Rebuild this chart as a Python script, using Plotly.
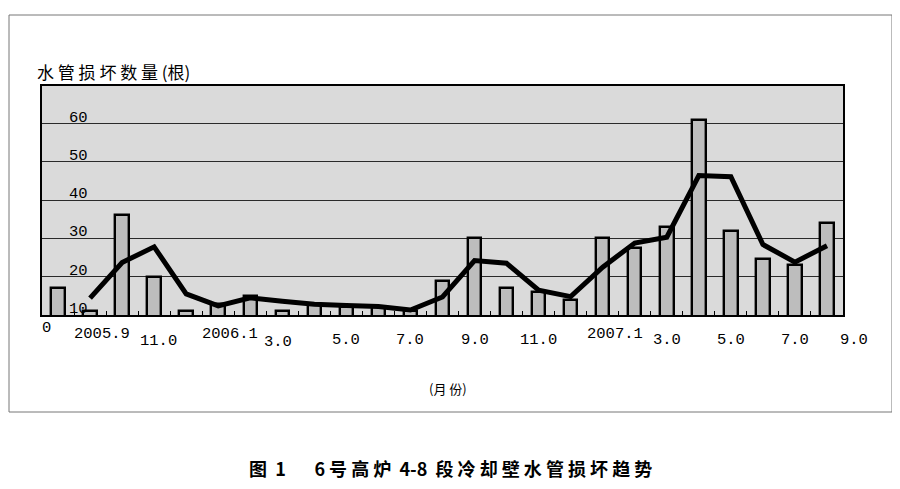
import plotly.graph_objects as go

# ---- data ----
months = ["2005.8", "2005.9", "2005.10", "2005.11", "2005.12",
          "2006.1", "2006.2", "2006.3", "2006.4", "2006.5", "2006.6",
          "2006.7", "2006.8", "2006.9", "2006.10", "2006.11", "2006.12",
          "2007.1", "2007.2", "2007.3", "2007.4", "2007.5", "2007.6",
          "2007.7", "2007.8"]
damaged = [17, 11, 36, 20, 11, 13, 15, 11, 12.5, 12, 12, 11, 19, 30, 17,
           16, 14, 30, 27.5, 33, 61, 32, 24.5, 23, 34]
trend = [None, 14.4, 23.7, 27.8, 15.5, 12.4, 14.5, 13.6, 12.8, 12.5, 12.2,
         11.3, 14.7, 24.2, 23.5, 16.5, 14.8, 22.5, 28.8, 30.3, 46.4, 46.1,
         28.4, 23.8, 28.1]

y_ticks = [10, 20, 30, 40, 50, 60]
x_tick_pos = [-1, 1, 3, 5, 7, 9, 11, 13, 15, 17, 19, 21, 23, 25]
x_tick_text = ["0", "2005.9", "11.0", "2006.1", "3.0", "5.0", "7.0", "9.0",
               "11.0", "2007.1", "3.0", "5.0", "7.0", "9.0"]

y_title = "水 管 损 坏 数 量 (根)"
x_title = "(月 份)"
caption = "图  1       6 号 高 炉  4-8  段 冷 却 壁 水 管 损 坏 趋 势"

# ---- figure ----
x_idx = list(range(len(months)))
n = len(months)

fig = go.Figure()
fig.add_trace(go.Bar(
    x=x_idx, y=damaged, width=0.42,
    marker=dict(color="#bdbdbd", line=dict(color="black", width=2.4)),
    hoverinfo="skip", showlegend=False,
))
fig.add_trace(go.Scatter(
    x=x_idx, y=trend, mode="lines",
    line=dict(color="black", width=5),
    hoverinfo="skip", showlegend=False, connectgaps=False,
))

OFF = 8  # page body margin
W, H = 900 - 2 * OFF, 489 - 2 * OFF
# plot area in window pixels
L, R, T, B = 42, 843, 86, 315
pw, ph = R - L, B - T

digit_font = dict(family="Liberation Mono, DejaVu Sans Mono, monospace",
                  size=15.5, color="black")

annotations = []
for v in y_ticks:
    annotations.append(dict(
        x=0, xref="paper", y=v, yref="y", xshift=25,
        xanchor="left", yanchor="bottom", yshift=-5,
        text=str(v), showarrow=False, font=digit_font))

for pos, txt in zip(x_tick_pos, x_tick_text):
    xs, yc = 0, 340
    if txt == "0":
        pos, xs, yc = -0.5, 4, 328
    elif txt.startswith("200"):
        xs, yc = 12, 334
    elif txt == "11.0" and pos == 3:
        xs, yc = 4, 341
    elif txt == "3.0" and pos == 7:
        xs, yc = -4, 342
    elif pos >= n:
        xs = -5
    # position as a fraction of the category axis (works beyond its range)
    xp = (pos + 0.5) / n
    annotations.append(dict(
        x=xp, xref="paper", y=0, yref="paper", xshift=xs,
        yshift=-(yc - B), xanchor="center", yanchor="middle",
        text=txt, showarrow=False, font=digit_font))

annotations.append(dict(
    x=0, xref="paper", xshift=35 - L, y=1, yref="paper", yshift=T - 71,
    xanchor="left", yanchor="middle", text=y_title, showarrow=False,
    font=dict(family="Noto Sans CJK SC", size=17, color="black")))
annotations.append(dict(
    x=(448 - L) / pw, xref="paper", y=0, yref="paper", yshift=-(388 - B),
    xanchor="center", yanchor="middle", text=x_title, showarrow=False,
    font=dict(family="Noto Sans CJK SC", size=13, color="black")))
annotations.append(dict(
    x=(450 - L) / pw, xref="paper", y=0, yref="paper", yshift=-(468 - B),
    xanchor="center", yanchor="middle", text="<b>" + caption + "</b>",
    showarrow=False,
    font=dict(family="Noto Sans CJK SC", size=18, color="black")))

shapes = [dict(
    type="rect", xref="paper", yref="paper",
    x0=(9 - L) / pw, x1=(892 - L) / pw,
    y0=(B - 412) / ph, y1=(B - 15) / ph,
    line=dict(color="#777777", width=1), fillcolor="rgba(0,0,0,0)",
    layer="below")]

fig.update_layout(
    width=W, height=H,
    margin=dict(l=L - OFF, r=(900 - OFF) - R, t=T - OFF, b=(489 - OFF) - B,
                pad=0),
    paper_bgcolor="white", plot_bgcolor="#dadada",
    bargap=0, showlegend=False,
    annotations=annotations, shapes=shapes,
)
fig.update_xaxes(
    range=[-0.5, n - 0.5],
    tickvals=[k + 0.5 for k in range(n - 1)],
    ticks="inside", ticklen=4, tickwidth=1, tickcolor="black",
    showticklabels=False, showgrid=False, zeroline=False,
    showline=True, linecolor="black", linewidth=1.5, mirror=True,
)
fig.update_yaxes(
    range=[10, 10 + (B - T) / 3.83],
    tickvals=y_ticks[1:], showticklabels=False, ticks="",
    showgrid=True, gridcolor="#2a2a2a", gridwidth=1, zeroline=False,
    showline=True, linecolor="black", linewidth=1.5, mirror=True,
)

fig.write_html("out.html")
